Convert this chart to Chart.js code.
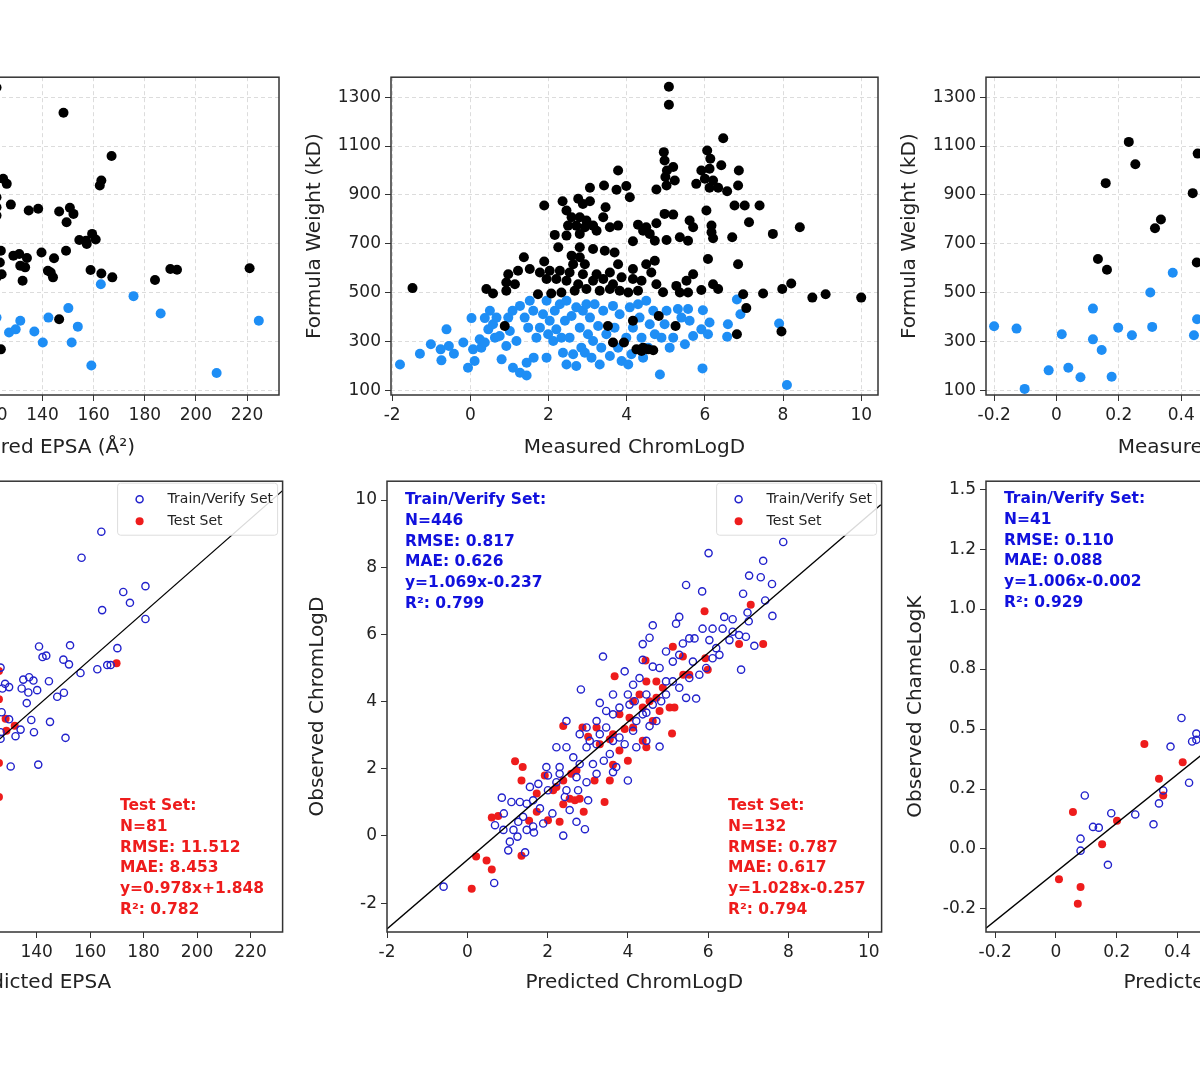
<!DOCTYPE html>
<html>
<head>
<meta charset="utf-8">
<script src="https://cdn.jsdelivr.net/npm/chart.js@4.4.1/dist/chart.umd.min.js"></script>
<style>
  html, body { margin: 0; padding: 0; background: #fff; width: 1200px; height: 1080px; overflow: hidden; position: relative; }
  canvas { position: absolute; }
</style>
</head>
<body>
<canvas id="tl"></canvas>
<canvas id="tm"></canvas>
<canvas id="tr"></canvas>
<canvas id="bl"></canvas>
<canvas id="bm"></canvas>
<canvas id="br"></canvas>
<script>
// ---- data: [x, y] values ----
const tlBlack = [[122,1340],[148.2,1236],[167,1059],[162.4,938],[163,959],[124.6,966],[126,945],[122,890],[122,849],[127.6,860],[122,815],
  [134.6,836],[138.3,843],[146.5,832],[150.7,847],[152.1,822],[149.4,788],[154.4,715],[157,712],[157.3,699],[159.4,740],[160.8,717],
  [123.7,671],[128.6,651],[130.9,658],[133.9,641],[133.2,603],[131.3,610],[123.3,623],[124,575],[122,562],[132.2,548],
  [139.6,664],[144.5,640],[149.2,671],[142.1,589],[144.1,562],[143.2,582],[158.8,592],[163,578],[167.3,562],
  [184,551],[190,596],[192.6,593],[221,599],[146.5,390],[123.7,267]];
const tlBlue = [[122,397],[126.9,336],[129.5,349],[131.3,384],[136.8,340],[140.1,295],[142.3,397],[150.1,436],[151.4,295],
  [153.8,360],[159.1,201],[162.8,534],[175.6,485],[186.2,414],[208.1,170],[224.6,384]];

const tmBlack = [[-1.48,518],[5.08,1343],[5.08,1269],[6.47,1132],[4.95,1075],[6.06,1082],[6.14,1048],[4.97,1041],[5.19,1014],[5.03,1000],
  [4.99,973],[5.23,959],[5.02,938],[3.78,1000],[5.91,1000],[6.12,1007],[6.42,1021],[6.87,1000],[3.06,929],[3.42,938],[3.74,921],
  [3.99,936],[4.08,890],[4.76,922],[5.78,945],[6.0,966],[6.21,959],[6.12,929],[6.34,929],[6.57,915],[6.85,938],[1.89,856],[2.36,874],
  [2.46,836],[2.76,884],[2.88,863],[3.06,874],[3.46,849],[2.59,808],[2.8,808],[2.97,795],[3.4,808],[2.5,774],[2.71,774],[2.93,767],
  [3.14,774],[3.57,767],[3.78,774],[4.29,778],[4.5,767],[4.76,784],[4.59,740],[4.42,753],[4.72,712],[4.97,822],[5.19,819],[5.61,795],
  [5.7,767],[6.04,836],[6.17,774],[6.17,747],[6.21,722],[6.76,856],[7.02,856],[7.4,856],[7.13,788],[6.7,726],[7.74,740],[8.43,767],
  [2.16,736],[2.46,733],[2.8,740],[3.23,753],[4.16,710],[5.02,715],[5.36,726],[5.57,712],[2.25,685],[2.8,685],[3.14,678],[3.44,671],
  [3.69,664],[2.59,651],[2.8,644],[2.93,616],[2.63,616],[1.37,644],[1.89,627],[0.97,575],[1.22,589],[1.52,596],[1.78,582],[2.03,589],
  [2.29,589],[2.54,582],[2.88,575],[3.23,575],[3.57,582],[3.78,616],[4.16,596],[4.5,616],[4.72,630],[4.63,582],[3.87,562],[4.16,555],
  [4.38,548],[1.95,555],[2.2,555],[2.46,548],[2.76,534],[3.14,548],[3.4,555],[3.65,534],[0.92,541],[0.41,514],[0.58,496],[0.92,507],
  [1.14,534],[1.73,493],[2.07,496],[2.33,500],[2.67,507],[2.97,514],[3.31,507],[3.57,514],[3.82,507],[4.04,500],[4.29,507],[4.76,534],
  [4.93,501],[5.27,527],[5.36,500],[5.57,500],[5.53,548],[5.7,575],[5.91,510],[6.08,637],[6.21,534],[6.34,514],[6.85,616],[6.98,493],
  [7.49,496],[7.98,514],[8.21,537],[7.06,436],[8.75,479],[9.09,493],[10.0,479],[0.88,363],[3.52,363],[3.65,295],[3.93,295],[4.16,384],
  [4.82,404],[5.25,363],[6.82,329],[7.96,340],[4.25,267],[4.42,274],[4.55,267],[4.68,263],[4.38,260]];
const tmBlue = [[-1.8,205],[-1.29,249],[-1.01,288],[-0.76,267],[-0.74,222],[-0.61,349],[-0.55,281],[-0.42,249],[-0.18,295],[-0.06,192],
  [0.03,395],[0.07,267],[0.11,219],[0.24,308],[0.28,274],[0.37,395],[0.37,295],[0.46,349],[0.5,425],[0.58,370],[0.63,315],[0.67,397],
  [0.75,322],[0.8,226],[0.92,281],[0.97,397],[1.01,342],[1.08,425],[1.09,192],[1.18,301],[1.27,445],[1.27,171],[1.39,397],[1.44,212],
  [1.44,160],[1.48,356],[1.52,466],[1.61,425],[1.62,233],[1.69,315],[1.78,356],[1.86,411],[1.95,466],[1.99,329],[2.03,384],[1.95,233],
  [2.12,301],[2.16,425],[2.2,349],[2.29,452],[2.33,315],[2.37,253],[2.42,384],[2.46,466],[2.46,205],[2.54,315],[2.59,404],[2.63,247],
  [2.71,439],[2.71,199],[2.8,356],[2.84,274],[2.88,425],[2.93,253],[2.97,452],[3.01,329],[3.06,397],[3.1,233],[3.14,301],[3.18,452],
  [3.27,363],[3.31,205],[3.35,274],[3.4,425],[3.48,329],[3.57,240],[3.65,445],[3.69,356],[3.78,274],[3.82,411],[3.87,219],[3.99,315],
  [4.04,205],[4.08,439],[4.12,247],[4.16,356],[4.29,452],[4.33,397],[4.38,315],[4.42,233],[4.5,466],[4.55,274],[4.59,370],[4.68,425],
  [4.72,329],[4.85,164],[4.89,315],[4.97,370],[5.02,425],[5.1,274],[5.19,315],[5.31,432],[5.4,397],[5.49,288],[5.57,432],[5.61,384],
  [5.7,322],[5.91,349],[5.95,427],[5.94,189],[6.12,377],[6.08,329],[6.59,370],[6.57,319],[6.82,471],[6.91,411],[7.9,373],[8.1,121]];

const trBlack = [[0.232,1117],[0.253,1025],[0.158,948],[0.133,637],[0.162,593],[0.316,763],[0.335,799],[0.437,907],[0.453,1069],[0.45,623]];
const trBlue = [[-0.2,362],[-0.128,352],[-0.102,105],[-0.025,181],[0.038,192],[0.017,329],[0.077,153],[0.117,434],[0.117,308],[0.145,264],
  [0.177,155],[0.198,356],[0.242,325],[0.301,500],[0.307,359],[0.373,581],[0.441,325],[0.451,390]];

const blTrain = [[164.2,214.5],[156.8,203.4],[180.7,191.3],[172.4,188.8],[174.9,184.2],[164.5,181.1],[180.7,177.3],[140.9,165.6],
  [152.5,166.1],[142.2,161.1],[143.6,161.7],[150,160],[152.1,158],[170.2,164.9],[166.4,157.7],[167.7,157.7],[162.7,155.9],[156.4,154.3],
  [144.6,150.8],[135,151.5],[137.2,152.5],[138.8,151.1],[128.2,149.7],[127.2,147.7],[129.7,148.3],[134.4,147.7],[136.9,146],[140.2,147],
  [147.7,144.2],[150.2,145.9],[136.3,141.5],[126.9,137.6],[129.7,134.6],[138,134.3],[134,130.2],[139,129.1],[132.1,127.4],[145,133.5],
  [150.8,126.7],[130.3,114.5],[140.6,115.3],[126.5,156.6],[126.5,129.1],[126.5,126.3]];
const blTest = [[169.9,158.5],[128.4,134.8],[131.8,131.8],[128.7,129.7],[125.9,143.1],[125.9,155.2],[125.9,116],[125.9,101.5]];
const blFit = [[40,40],[240,240]];

const bmTrain = [[-0.59,-1.51],[0.67,-1.4],[1.02,-0.43],[1.44,-0.49],[1.06,-0.17],[1.25,-0.02],[0.9,0.18],[1.15,0.18],[0.69,0.32],
  [0.91,0.67],[1.27,0.42],[1.48,0.18],[1.66,0.1],[1.64,0.28],[1.89,0.37],[2.12,0.67],[2.39,0.01],[0.86,1.14],[1.1,1.01],[1.31,1.01],
  [1.48,0.96],[1.56,1.46],[1.77,1.55],[2.01,1.36],[2.22,1.6],[2.47,1.36],[2.72,0.42],[2.93,0.2],[2.01,1.8],[2.3,1.85],[2.72,1.75],
  [2.97,1.6],[3.22,1.85],[2.22,2.64],[2.47,2.64],[2.64,2.34],[2.8,2.14],[2.97,2.64],[3.22,2.73],[3.4,2.24],[3.63,1.9],[3.71,2.05],
  [4.0,1.65],[2.47,3.42],[2.8,3.03],[3.05,2.83],[3.3,3.03],[3.63,2.83],[3.92,2.73],[4.21,2.64],[4.46,2.83],[4.79,2.66],[3.3,3.96],
  [3.46,3.72],[3.63,3.62],[3.79,3.82],[4.0,4.21],[4.17,4.01],[4.37,3.62],[4.54,3.27],[4.71,3.42],[3.38,5.34],[2.83,4.36],[3.92,4.9],
  [4.13,4.5],[4.29,4.7],[4.46,4.21],[4.62,3.91],[4.83,4.01],[4.95,4.21],[5.12,4.6],[5.28,4.41],[5.45,4.11],[5.7,4.09],[5.53,4.7],
  [5.78,4.8],[5.95,5.0],[6.11,5.29],[4.37,5.24],[4.62,5.04],[4.79,5.0],[4.95,5.49],[5.12,5.19],[5.28,5.39],[5.37,5.73],[5.53,5.88],
  [5.66,5.88],[5.86,6.17],[6.11,6.17],[6.36,6.17],[6.61,6.08],[6.03,5.83],[6.2,5.59],[6.53,5.83],[6.77,5.98],[6.94,5.93],[7.15,5.66],
  [6.82,4.95],[5.2,6.32],[5.28,6.52],[4.62,6.27],[4.54,5.9],[4.37,5.71],[5.45,7.47],[5.85,7.28],[6.01,8.42],[6.4,6.52],[6.61,6.45],
  [6.87,7.21],[7.02,7.75],[7.31,7.7],[7.37,8.19],[7.42,7.01],[7.59,7.5],[7.6,6.55],[7.87,8.75],[6.98,6.65],[7.01,6.39],[4.13,3.13],
  [3.79,2.93],[3.22,3.42],[2.97,3.23],[2.3,2.05],[1.97,2.05],[1.64,1.06],[1.81,0.82],[1.39,0.57],[3.63,4.21],[3.13,2.14],[3.55,2.44],
  [4.21,3.42],[4.95,4.6],[5.62,5.19],[6.28,5.39],[2.55,0.77],[4.46,3.67],[4.04,3.91],[3.46,3.23],[2.76,1.36],[3.01,1.06],[2.43,1.16]];
const bmTest = [[0.11,-1.57],[0.22,-0.61],[0.48,-0.73],[0.61,-1.0],[1.35,-0.59],[0.61,0.55],[0.77,0.59],[1.19,2.22],[1.38,2.05],
  [1.35,1.65],[1.54,0.45],[1.73,1.26],[1.73,0.72],[1.93,1.8],[2.01,0.47],[2.14,1.36],[2.3,0.42],[2.39,0.94],[2.55,1.11],[2.68,1.06],
  [2.8,1.11],[2.9,0.72],[2.22,1.46],[2.39,1.65],[2.59,1.85],[2.72,1.95],[3.17,1.65],[3.55,1.65],[3.63,2.12],[3.42,1.01],[2.39,3.27],
  [2.87,3.23],[3.01,2.95],[3.22,3.23],[3.3,2.73],[3.55,2.88],[3.63,3.03],[3.79,2.54],[4.0,2.24],[3.92,3.18],[4.13,3.23],[4.37,2.83],
  [4.46,2.64],[4.62,3.42],[4.79,3.72],[5.04,3.82],[5.16,3.82],[5.1,3.05],[4.29,4.21],[4.46,4.6],[4.71,4.6],[4.87,4.41],[4.71,4.11],
  [4.54,4.01],[4.13,4.01],[4.37,3.82],[5.12,5.63],[5.37,5.34],[5.38,4.8],[5.53,4.8],[5.93,5.29],[5.99,4.95],[5.91,6.69],[6.77,5.71],
  [7.06,6.88],[7.37,5.71],[3.67,4.75],[4.44,5.22],[3.79,3.62],[4.04,3.52]];
const bmFit = [[-2,-2.77],[10.3,9.86]];

const brTrain = [[0.081,0.043],[0.081,-0.007],[0.095,0.223],[0.122,0.092],[0.141,0.089],[0.171,-0.066],[0.182,0.149],[0.261,0.144],
  [0.321,0.103],[0.339,0.19],[0.353,0.244],[0.377,0.427],[0.413,0.546],[0.438,0.276],[0.448,0.448],[0.462,0.481],[0.462,0.455]];
const brTest = [[0.01,-0.126],[0.056,0.154],[0.072,-0.228],[0.081,-0.158],[0.152,0.02],[0.201,0.118],[0.291,0.438],[0.339,0.293],
  [0.353,0.223],[0.417,0.362]];
const brFit = [[-0.23,-0.33],[1.4,1.33]];

// ---- tick values and labels ----
const fwTicks = [100, 300, 500, 700, 900, 1100, 1300];
const epsaTicks = [60, 80, 100, 120, 140, 160, 180, 200, 220];
const logdTicks = [-2, 0, 2, 4, 6, 8, 10];
const logkXTicks = [-0.2, 0, 0.2, 0.4, 0.6, 0.8, 1.0, 1.2];
const logkXLabels = ['-0.2', '0', '0.2', '0.4', '0.6', '0.8', '1.0', '1.2'];
const logkYTicks = [-0.25, 0, 0.25, 0.5, 0.75, 1.0, 1.25, 1.5];
const logkYLabels = ['-0.2', '0.0', '0.2', '0.5', '0.8', '1.0', '1.2', '1.5'];

const trainStats = {
  bm: ['Train/Verify Set:', 'N=446', 'RMSE: 0.817', 'MAE: 0.626', 'y=1.069x-0.237', 'R²: 0.799'],
  br: ['Train/Verify Set:', 'N=41', 'RMSE: 0.110', 'MAE: 0.088', 'y=1.006x-0.002', 'R²: 0.929']
};
const testStats = {
  bl: ['Test Set:', 'N=81', 'RMSE: 11.512', 'MAE: 8.453', 'y=0.978x+1.848', 'R²: 0.782'],
  bm: ['Test Set:', 'N=132', 'RMSE: 0.787', 'MAE: 0.617', 'y=1.028x-0.257', 'R²: 0.794']
};

const FONT = '"DejaVu Sans", sans-serif';
const BLACK_DOT = '#000000';
const BLUE_DOT = '#1e8ef5';
const OPEN_BLUE = '#2222cc';
const RED_DOT = '#ee1c1c';
const PAD_TOP = 14;

// box, inner texts and legend
const framePlugin = {
    id: 'frame',
    afterDatasetsDraw(chart, args, opts) {
        const ctx = chart.ctx;
        const a = chart.chartArea;
        ctx.save();
        ctx.strokeStyle = '#333';
        ctx.lineWidth = 1.5;
        ctx.strokeRect(a.left, a.top, a.right - a.left, a.bottom - a.top);

        (opts.texts || []).forEach(t => {
            ctx.fillStyle = t.color;
            ctx.font = 'bold 15.5px ' + FONT;
            ctx.textBaseline = 'middle';
            ctx.textAlign = 'left';
            t.lines.forEach((s, i) => ctx.fillText(s, a.left + t.dx, a.top + t.dy + i * 20.7));
        });

        if (opts.legend) {
            const w = 160, h = 52;
            const x = a.right - w - 5, y = a.top + 2;
            ctx.fillStyle = 'rgba(255,255,255,0.85)';
            ctx.strokeStyle = '#ddd';
            ctx.lineWidth = 1;
            ctx.beginPath();
            ctx.roundRect(x, y, w, h, 3);
            ctx.fill();
            ctx.stroke();
            ctx.beginPath();
            ctx.arc(x + 22, y + 16, 3.5, 0, Math.PI * 2);
            ctx.strokeStyle = OPEN_BLUE;
            ctx.lineWidth = 1.5;
            ctx.stroke();
            ctx.beginPath();
            ctx.arc(x + 22, y + 38, 4, 0, Math.PI * 2);
            ctx.fillStyle = RED_DOT;
            ctx.fill();
            ctx.fillStyle = '#222';
            ctx.font = '14px ' + FONT;
            ctx.textBaseline = 'middle';
            ctx.fillText('Train/Verify Set', x + 50, y + 16);
            ctx.fillText('Test Set', x + 50, y + 38);
        }
        ctx.restore();
    }
};

function axis(min, max, ticks, labels, title, fitSize, isX, dashedGrid) {
    return {
        type: 'linear',
        min: min,
        max: max,
        afterBuildTicks: s => { s.ticks = ticks.map(v => ({ value: v })); },
        afterFit: s => { if (isX) s.height = fitSize; else s.width = fitSize; },
        ticks: {
            color: '#222',
            font: { family: FONT, size: 17 },
            padding: 4,
            autoSkip: false,
            maxRotation: 0,
            callback: (v, i) => labels ? labels[i] : String(v)
        },
        grid: dashedGrid
            ? { color: '#dcdcdc', tickColor: '#333', tickLength: 6, drawTicks: true }
            : { drawOnChartArea: false, color: '#333', tickLength: 6 },
        border: { display: false, dash: dashedGrid ? [4, 3] : [] },
        title: {
            display: true,
            text: title,
            color: '#222',
            font: { family: FONT, size: 20 },
            padding: { top: 2, bottom: 2 }
        }
    };
}

function makePanel(id, p) {
    const canvas = document.getElementById(id);
    const w = p.plotW + p.yW + 4;
    const h = p.plotH + PAD_TOP + p.xH;
    canvas.width = w;
    canvas.height = h;
    canvas.style.left = (p.left - p.yW) + 'px';
    canvas.style.top = (p.top - PAD_TOP) + 'px';
    canvas.style.width = w + 'px';
    canvas.style.height = h + 'px';

    const xs = axis(p.xMin, p.xMax, p.xTicks, p.xLabels, p.xTitle, p.xH, true, p.grid);
    const ys = axis(p.yMin, p.yMax, p.yTicks, p.yLabels, p.yTitle, p.yW, false, p.grid);

    new Chart(canvas.getContext('2d'), {
        type: 'scatter',
        data: { datasets: p.datasets },
        options: {
            responsive: false,
            animation: false,
            devicePixelRatio: 1,
            layout: { padding: { top: PAD_TOP, right: 4, left: 0, bottom: 0 } },
            scales: { x: xs, y: ys },
            plugins: {
                legend: { display: false },
                tooltip: { enabled: false },
                frame: { texts: p.texts || [], legend: !!p.legend }
            }
        },
        plugins: [framePlugin]
    });
}

const toPts = arr => arr.map(d => ({ x: d[0], y: d[1] }));
const filled = (arr, c, r) => ({ data: toPts(arr), pointRadius: r, backgroundColor: c, borderColor: c, borderWidth: 0, pointHoverRadius: r });
const hollow = (arr, c) => ({ data: toPts(arr), pointRadius: 3.6, backgroundColor: 'rgba(0,0,0,0)', borderColor: c, borderWidth: 1.4 });
const fitLine = arr => ({ type: 'line', data: toPts(arr), borderColor: '#000', borderWidth: 1.3, pointRadius: 0, showLine: true, order: -1 });

// top row: formula weight vs measured values
makePanel('tl', { left: -208, top: 77, plotW: 488, plotH: 318, yW: 90, xH: 67, grid: true,
    xMin: 42, xMax: 232.5, xTicks: epsaTicks, xTitle: 'Measured EPSA (Å²)',
    yMin: 80, yMax: 1382, yTicks: fwTicks, yTitle: 'Formula Weight (kD)',
    datasets: [filled(tlBlack, BLACK_DOT, 5), filled(tlBlue, BLUE_DOT, 5)] });

makePanel('tm', { left: 391, top: 77, plotW: 488, plotH: 318, yW: 90, xH: 67, grid: true,
    xMin: -2.03, xMax: 10.43, xTicks: logdTicks, xTitle: 'Measured ChromLogD',
    yMin: 80, yMax: 1382, yTicks: fwTicks, yTitle: 'Formula Weight (kD)',
    datasets: [filled(tmBlack, BLACK_DOT, 5), filled(tmBlue, BLUE_DOT, 5)] });

makePanel('tr', { left: 986, top: 77, plotW: 488, plotH: 318, yW: 90, xH: 67, grid: true,
    xMin: -0.226, xMax: 1.336, xTicks: logkXTicks, xLabels: logkXLabels, xTitle: 'Measured ChameLogK',
    yMin: 80, yMax: 1382, yTicks: fwTicks, yTitle: 'Formula Weight (kD)',
    datasets: [filled(trBlack, BLACK_DOT, 5), filled(trBlue, BLUE_DOT, 5)] });

// bottom row: observed vs predicted
makePanel('bl', { left: -212, top: 481, plotW: 496, plotH: 451, yW: 83, xH: 65, grid: false,
    xMin: 47, xMax: 232, xTicks: epsaTicks, xTitle: 'Predicted EPSA',
    yMin: 44, yMax: 236, yTicks: epsaTicks, yTitle: 'Observed EPSA',
    legend: true,
    texts: [{ lines: testStats.bl, color: RED_DOT, dx: 332, dy: 325 }],
    datasets: [fitLine(blFit), hollow(blTrain, OPEN_BLUE), filled(blTest, RED_DOT, 4)] });

makePanel('bm', { left: 387, top: 481, plotW: 496, plotH: 451, yW: 83, xH: 65, grid: false,
    xMin: -2, xMax: 10.32, xTicks: logdTicks, xTitle: 'Predicted ChromLogD',
    yMin: -2.86, yMax: 10.56, yTicks: logdTicks, yTitle: 'Observed ChromLogD',
    legend: true,
    texts: [{ lines: trainStats.bm, color: '#1111dd', dx: 18, dy: 19 },
            { lines: testStats.bm, color: RED_DOT, dx: 341, dy: 325 }],
    datasets: [fitLine(bmFit), hollow(bmTrain, OPEN_BLUE), filled(bmTest, RED_DOT, 4)] });

makePanel('br', { left: 986, top: 481, plotW: 496, plotH: 451, yW: 84, xH: 65, grid: false,
    xMin: -0.23, xMax: 1.397, xTicks: logkXTicks, xLabels: logkXLabels, xTitle: 'Predicted ChameLogK',
    yMin: -0.346, yMax: 1.533, yTicks: logkYTicks, yLabels: logkYLabels, yTitle: 'Observed ChameLogK',
    texts: [{ lines: trainStats.br, color: '#1111dd', dx: 18, dy: 18 }],
    datasets: [fitLine(brFit), hollow(brTrain, OPEN_BLUE), filled(brTest, RED_DOT, 4)] });
</script>
</body>
</html>
